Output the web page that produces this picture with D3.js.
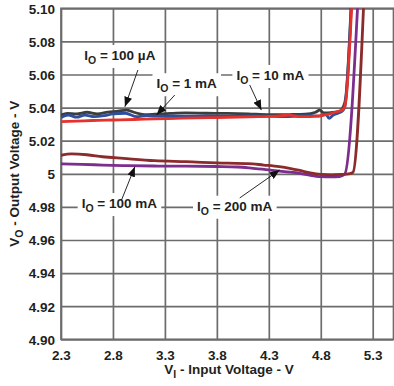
<!DOCTYPE html>
<html>
<head>
<meta charset="utf-8">
<script src="https://cdn.jsdelivr.net/npm/d3@7"></script>
<style>
  body { margin: 0; background: #fff; }
  svg text { font-family: "Liberation Sans", Arial, sans-serif; font-weight: bold; fill: #231f20; }
</style>
</head>
<body>
<svg id="chart" width="394" height="386"></svg>
<script>
// x ticks / y ticks
const xTicks = [2.3, 2.8, 3.3, 3.8, 4.3, 4.8, 5.3];
const xTickLabels = ["2.3", "2.8", "3.3", "3.8", "4.3", "4.8", "5.3"];
const yTicks = [4.90, 4.92, 4.94, 4.96, 4.98, 5.00, 5.02, 5.04, 5.06, 5.08, 5.10];
const yTickLabels = ["4.90", "4.92", "4.94", "4.96", "4.98", "5", "5.02", "5.04", "5.06", "5.08", "5.10"];

// IO = 100 uA
const vin100uA = [2.3, 2.36, 2.45, 2.55, 2.65, 2.75, 2.85, 2.93, 3.0, 3.1, 3.2, 3.35, 3.5, 3.7, 3.9, 4.1, 4.3, 4.5, 4.65, 4.75, 4.79, 4.83, 4.9, 4.98, 5.02, 5.04, 5.098];
const vout100uA = [5.0355, 5.0365, 5.0362, 5.0372, 5.0362, 5.0372, 5.0378, 5.0385, 5.0372, 5.0358, 5.036, 5.0365, 5.0368, 5.0366, 5.0365, 5.0362, 5.0357, 5.0358, 5.036, 5.0372, 5.0385, 5.0368, 5.037, 5.0378, 5.041, 5.046, 5.11];
// IO = 1 mA
const vin1mA = [2.3, 2.37, 2.45, 2.53, 2.62, 2.72, 2.8, 2.92, 3.03, 3.12, 3.2, 3.35, 3.5, 3.7, 3.9, 4.1, 4.3, 4.45, 4.6, 4.7, 4.78, 4.85, 4.88, 4.92, 4.96, 5.0, 5.03, 5.043, 5.1];
const vout1mA = [5.034, 5.0355, 5.0342, 5.0355, 5.0345, 5.0352, 5.0362, 5.0366, 5.0345, 5.0352, 5.0348, 5.035, 5.0348, 5.035, 5.0348, 5.035, 5.0348, 5.0345, 5.035, 5.0352, 5.0348, 5.036, 5.0335, 5.0355, 5.0365, 5.0375, 5.04, 5.046, 5.11];
// IO = 10 mA
const vin10mA = [2.3, 2.45, 2.6, 2.8, 3.0, 3.2, 3.4, 3.6, 3.8, 4.0, 4.2, 4.4, 4.5, 4.6, 4.7, 4.8, 4.88, 4.95, 4.99, 5.03, 5.045, 5.104];
const vout10mA = [5.0315, 5.0318, 5.0322, 5.0325, 5.0328, 5.0332, 5.0335, 5.0338, 5.034, 5.0342, 5.0345, 5.035, 5.0355, 5.0345, 5.0345, 5.0352, 5.036, 5.0375, 5.038, 5.0402, 5.046, 5.11];
// IO = 100 mA
const vin100mA = [2.3, 2.5, 2.7, 2.9, 3.2, 3.5, 3.8, 4.0, 4.15, 4.3, 4.45, 4.6, 4.7, 4.8, 4.9, 4.98, 5.03, 5.162];
const vout100mA = [5.006, 5.0057, 5.0053, 5.005, 5.0047, 5.0046, 5.0044, 5.0041, 5.0033, 5.0024, 5.0013, 5.0003, 4.9991, 4.9983, 4.9981, 4.9983, 4.9997, 5.11];
// IO = 200 mA
const vin200mA = [2.3, 2.4, 2.55, 2.7, 2.9, 3.2, 3.5, 3.9, 4.1, 4.25, 4.4, 4.5, 4.6, 4.7, 4.8, 4.9, 5.0, 5.08, 5.11, 5.218];
const vout200mA = [5.0112, 5.012, 5.0115, 5.0103, 5.0093, 5.0079, 5.0073, 5.0064, 5.0062, 5.0053, 5.0043, 5.0033, 5.002, 5.0005, 4.9996, 4.9994, 4.9996, 5.0001, 5.0008, 5.11];

const svg = d3.select("#chart");
const mLeft = 61, mRight = 393.5, mTop = 8.3, mBottom = 339.3;

const x = d3.scaleLinear().domain([2.3, 5.5]).range([mLeft, mRight]);
const y = d3.scaleLinear().domain([4.90, 5.10]).range([mBottom, mTop]);

const gridColor = "#6c6c6c";

// gridlines via axes
const xAxis = svg.append("g")
    .attr("transform", `translate(0,${mBottom})`)
    .call(d3.axisBottom(x).tickValues(xTicks)
        .tickFormat((d, i) => xTickLabels[i])
        .tickSize(-(mBottom - mTop)).tickPadding(9));
const yAxis = svg.append("g")
    .attr("transform", `translate(${mLeft},0)`)
    .call(d3.axisLeft(y).tickValues(yTicks)
        .tickFormat((d, i) => yTickLabels[i])
        .tickSize(-(mRight - mLeft)).tickPadding(6));

[xAxis, yAxis].forEach(g => {
  g.select(".domain").remove();
  g.selectAll(".tick line").attr("stroke", gridColor).attr("stroke-width", 1.7);
  g.selectAll(".tick text").attr("font-size", 13.5).attr("fill", "#231f20");
});
xAxis.selectAll(".tick text").attr("y", 11).attr("dy", "0.71em");
yAxis.selectAll(".tick text").attr("dy", "0.36em");

// frame
svg.append("rect")
    .attr("x", mLeft).attr("y", mTop)
    .attr("width", mRight - mLeft).attr("height", mBottom - mTop)
    .attr("fill", "none").attr("stroke", gridColor).attr("stroke-width", 1.7);

// annotation labels (white boxes knock out the grid)
const labels = [
  { txt: " = 100 \u00b5A", vin: 2.524, vout: 5.0688 },
  { txt: " = 1 mA", vin: 3.219, vout: 5.0517 },
  { txt: " = 10 mA", vin: 3.988, vout: 5.0567 },
  { txt: " = 100 mA", vin: 2.499, vout: 4.9793 },
  { txt: " = 200 mA", vin: 3.609, vout: 4.9777 }
];
const arrows = [
  [3.04, 5.0627, 2.915, 5.0405],
  [3.395, 5.0476, 3.219, 5.0355],
  [4.116, 5.0537, 4.228, 5.0385],
  [2.883, 4.9842, 3.011, 5.0043],
  [4.02, 4.9854, 4.404, 5.0023]
];

const labelG = svg.append("g");
labels.forEach(l => {
  const g = labelG.append("g");
  const t = g.append("text")
      .attr("x", x(l.vin)).attr("y", y(l.vout))
      .attr("font-size", 13.5);
  t.append("tspan").text("I");
  t.append("tspan").attr("font-size", 10.5).attr("dy", 4).text("O");
  t.append("tspan").attr("dy", -4).text(l.txt);
  const bb = t.node().getBBox();
  g.insert("rect", "text")
      .attr("x", bb.x - 4).attr("y", bb.y - 3)
      .attr("width", bb.width + 8).attr("height", bb.height + 5)
      .attr("fill", "#fff");
});

// curves
const series = [
  { vin: vin100uA, vout: vout100uA, color: "#3b3e3a" },
  { vin: vin1mA, vout: vout1mA, color: "#2f4f9e" },
  { vin: vin10mA, vout: vout10mA, color: "#e4322c" },
  { vin: vin100mA, vout: vout100mA, color: "#7d2d8e" },
  { vin: vin200mA, vout: vout200mA, color: "#8b2b2b" }
];

svg.append("clipPath").attr("id", "clip")
  .append("rect").attr("x", mLeft).attr("y", mTop)
  .attr("width", mRight - mLeft).attr("height", mBottom - mTop);

const line = d3.line()
    .x(d => x(d[0]))
    .y(d => y(d[1]))
    .curve(d3.curveMonotoneX);

svg.append("g").attr("clip-path", "url(#clip)")
  .selectAll("path")
  .data(series)
  .join("path")
    .attr("d", s => line(s.vin.map((v, i) => [v, s.vout[i]])))
    .attr("fill", "none")
    .attr("stroke", s => s.color)
    .attr("stroke-width", 2.8)
    .attr("stroke-linejoin", "round");

// arrows
svg.append("defs").append("marker")
    .attr("id", "arrow")
    .attr("markerUnits", "userSpaceOnUse")
    .attr("viewBox", "0 0 10 8")
    .attr("refX", 10).attr("refY", 4)
    .attr("markerWidth", 10).attr("markerHeight", 8)
    .attr("orient", "auto")
  .append("path")
    .attr("d", "M0,0L10,4L0,8Z")
    .attr("fill", "#111");

svg.append("g")
  .selectAll("line")
  .data(arrows)
  .join("line")
    .attr("x1", d => x(d[0])).attr("y1", d => y(d[1]))
    .attr("x2", d => x(d[2])).attr("y2", d => y(d[3]))
    .attr("stroke", "#111").attr("stroke-width", 0.9)
    .attr("marker-end", "url(#arrow)");

// axis titles
const xt = svg.append("text")
    .attr("x", 229).attr("y", 373.5)
    .attr("text-anchor", "middle").attr("font-size", 13.5);
xt.append("tspan").text("V");
xt.append("tspan").attr("font-size", 10.5).attr("dy", 4).text("I");
xt.append("tspan").attr("dy", -4).text(" - Input Voltage - V");

const yt = svg.append("text")
    .attr("transform", `translate(18.5,${(mTop + mBottom) / 2}) rotate(-90)`)
    .attr("text-anchor", "middle").attr("font-size", 13.5);
yt.append("tspan").text("V");
yt.append("tspan").attr("font-size", 10.5).attr("dy", 4).text("O");
yt.append("tspan").attr("dy", -4).text(" - Output Voltage - V");
</script>
</body>
</html>
